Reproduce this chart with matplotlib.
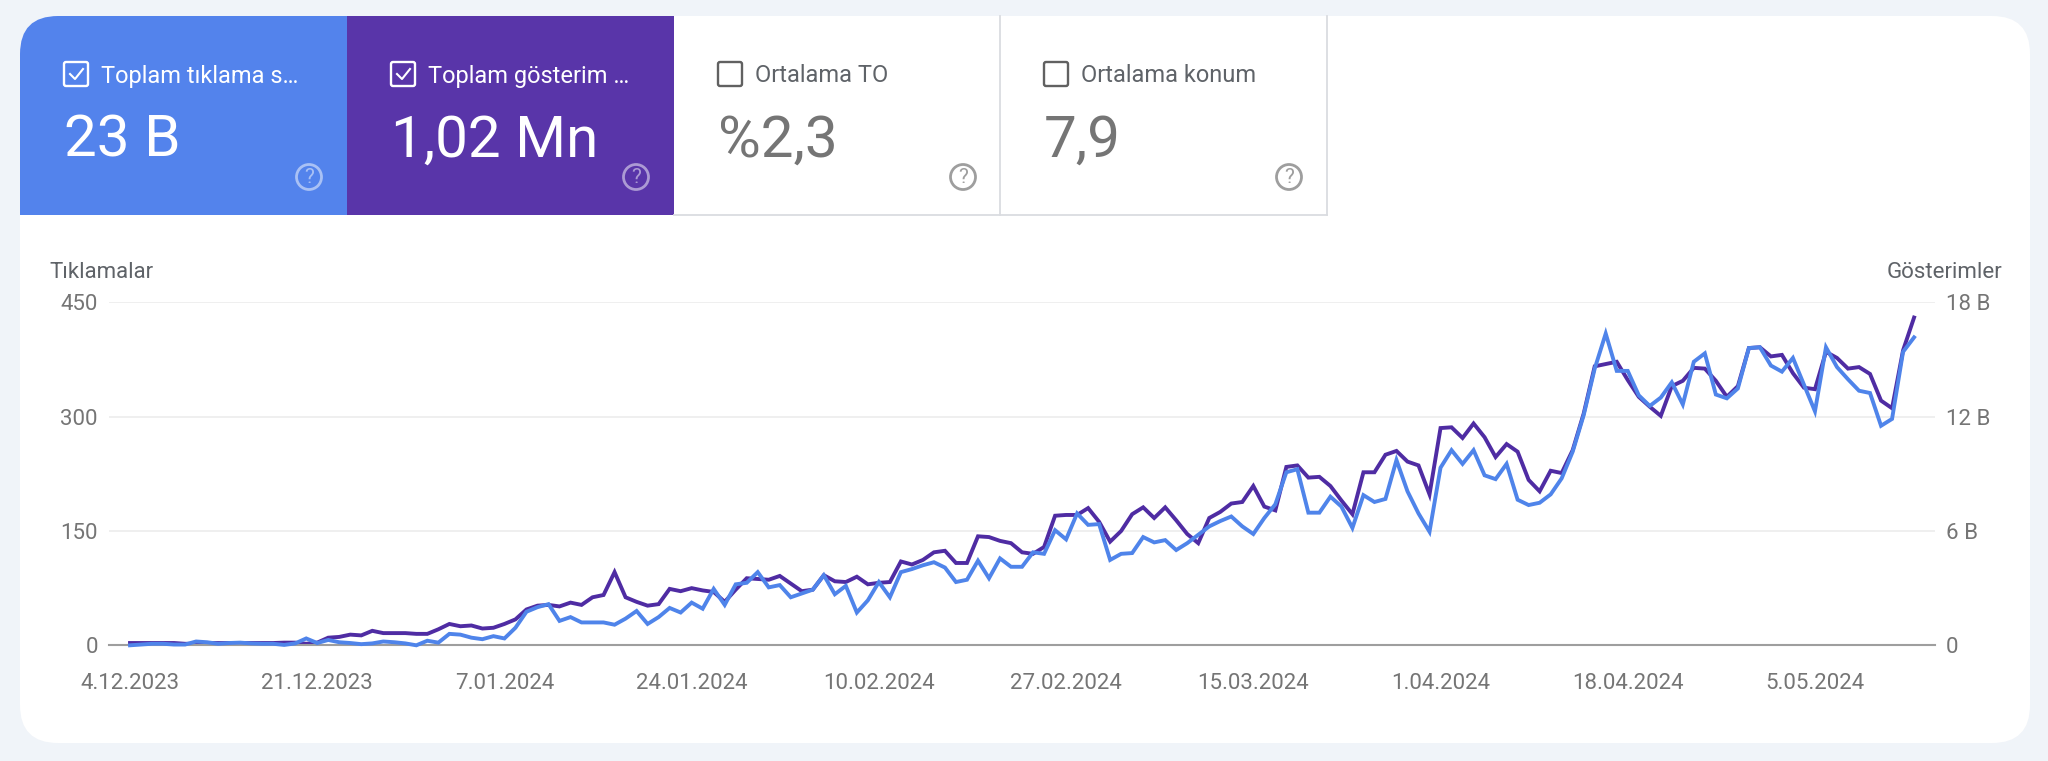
import numpy as np
import pandas as pd
import matplotlib
matplotlib.use('Agg')
import matplotlib.pyplot as plt
from matplotlib.patches import FancyBboxPatch, Rectangle, Circle

plt.rcParams['font.family'] = ['Roboto', 'DejaVu Sans']

# 数据
start_date = '2023-12-04'
clicks = [0, 1, 2, 2, 1, 1, 5, 4, 2, 3, 3.5, 2.5, 2, 2, 0.5, 2.5, 9, 3, 7, 4,
          3, 1.5, 2.5, 5, 4, 2.5, 0, 6, 3.5, 15, 14, 10, 8, 12, 9, 23, 44, 50, 54, 32,
          37, 30, 30, 30, 27, 35, 45, 28, 37, 49, 43, 56, 48, 74, 53, 80, 82, 96, 76, 79,
          63, 68, 73, 92, 67, 78, 43, 59, 83, 63, 96, 100, 105, 109, 102, 83, 86, 111, 88, 114,
          103, 103, 122, 120, 151, 139, 173, 158, 159, 112, 120, 121, 142, 135, 138, 125, 134, 145, 156, 163,
          169, 156, 146, 167, 185, 227, 231, 174, 174, 195, 182, 154, 197, 188, 192, 243, 202, 173, 149, 233,
          256, 238, 256, 223, 218, 238, 191, 184, 187, 198, 219, 254, 302, 363, 409, 360, 360, 328, 314, 325,
          345, 316, 372, 383, 329, 324, 337, 390, 391, 367, 359, 377, 342, 307, 391, 365, 349, 334, 331, 288,
          297, 385, 404]
impressions = [120, 120, 120, 120, 120, 80, 80, 120, 120, 120, 120, 120, 120, 120, 140, 140, 80, 140,
               400, 440, 560, 520, 760, 640, 640, 640, 600, 600, 840, 1120, 1000, 1040, 880, 920, 1120, 1360,
               1880, 2080, 2120, 2040, 2240, 2120, 2520, 2640, 3840, 2520, 2280, 2080, 2160, 2960, 2840, 3000,
               2880, 2800, 2280, 2920, 3520, 3480, 3440, 3640, 3240, 2840, 2920, 3680, 3360, 3320, 3600, 3200,
               3280, 3320, 4400, 4240, 4480, 4880, 4960, 4320, 4320, 5720, 5680, 5480, 5360, 4880, 4800, 5160,
               6800, 6840, 6840, 7200, 6480, 5440, 6000, 6880, 7240, 6680, 7240, 6560, 5840, 5360, 6680, 7000,
               7440, 7520, 8360, 7280, 7080, 9360, 9440, 8800, 8840, 8360, 7600, 6880, 9080, 9080, 10000, 10200,
               9640, 9440, 7920, 11400, 11440, 10880, 11640, 10920, 9880, 10560, 10160, 8680, 8080, 9160, 9040,
               10240, 12160, 14640, 14760, 14880, 13920, 13040, 12520, 12040, 13600, 13880, 14560, 14520, 13880,
               13040, 13600, 15600, 15640, 15160, 15240, 14280, 13520, 13440, 15400, 15080, 14520, 14600, 14240,
               12840, 12440, 15480, 17200]
tick_dates = ['4.12.2023', '21.12.2023', '7.01.2024', '24.01.2024', '10.02.2024',
              '27.02.2024', '15.03.2024', '1.04.2024', '18.04.2024', '5.05.2024']
left_ticks = [0, 150, 300, 450]
left_labels = ['0', '150', '300', '450']
right_ticks = [0, 6000, 12000, 18000]
right_labels = ['0', '6 B', '12 B', '18 B']
card_labels = ['Toplam tıklama s…', 'Toplam gösterim …', 'Ortalama TO', 'Ortalama konum']
card_values = ['23 B', '1,02 Mn', '%2,3', '7,9']
card_checked = [True, True, False, False]

W, H = 2048, 761
BLUE = '#5383ec'
PURPLE = '#5935a9'
GRAY = '#757575'

fig = plt.figure(figsize=(W / 100, H / 100), dpi=100, facecolor='#f0f4f9')

# 背景层，用像素坐标画卡片
bg = fig.add_axes([0, 0, 1, 1])
bg.set_xlim(0, W)
bg.set_ylim(H, 0)
bg.axis('off')

card = FancyBboxPatch((20, 16), 2010, 727, boxstyle='round,pad=0,rounding_size=38',
                      fc='white', ec='none')
bg.add_patch(card)

tile_x = [20, 347, 674, 1000]
tile_w = [327, 327, 326, 327]
tile_col = [BLUE, PURPLE, 'white', 'white']
for i in range(4):
    r = Rectangle((tile_x[i], 16), tile_w[i], 199, fc=tile_col[i], ec='none')
    bg.add_patch(r)
    r.set_clip_path(card)
    on_color = card_checked[i]
    txt = 'white' if on_color else '#5f6368'
    val = 'white' if on_color else GRAY
    ox = tile_x[i] + 43
    # 复选框
    bg.add_patch(FancyBboxPatch((ox + 1, 62), 24, 24, boxstyle='round,pad=0,rounding_size=2',
                                fc='none', ec='white' if on_color else '#616161', lw=1.7))
    if card_checked[i]:
        bg.plot([ox + 7, ox + 12, ox + 20], [74, 79, 69], color='white', lw=1.5)
    bg.text(ox + 38, 76, card_labels[i], color=txt, fontsize=17, va='center', ha='left')
    bg.text(ox + 1, 141, card_values[i], color=val, fontsize=42, va='center', ha='left')
    # 问号
    cx = tile_x[i] + 289
    icon = '#a9c1f5' if i == 0 else ('#ac9ad4' if i == 1 else '#9e9e9e')
    bg.add_patch(Circle((cx, 177), 12.5, fc='none', ec=icon, lw=2))
    bg.text(cx, 177.5, '?', color=icon, fontsize=15, va='center', ha='center')

# 白色指标卡的边线
bg.plot([674, 1327], [215, 215], color='#dadce0', lw=1.3)
bg.plot([1000, 1000], [16, 215], color='#dadce0', lw=1.3)
bg.plot([1327, 1327], [16, 215], color='#dadce0', lw=1.3)

bg.text(49, 273, 'Tıklamalar', color='#5f6368', fontsize=16, va='center', ha='left')
bg.text(2002, 273, 'Gösterimler', color='#5f6368', fontsize=16, va='center', ha='right')

# 折线图
dates = pd.date_range(start_date, periods=len(clicks), freq='D')
ticks = pd.to_datetime(tick_dates, format='%d.%m.%Y')

ax = fig.add_axes([109 / W, 1 - 645.3 / H, (1935 - 109) / W, 343 / H])
ax2 = ax.twinx()
ax.set_zorder(ax2.get_zorder() + 1)
ax.patch.set_visible(False)
ax2.patch.set_visible(False)

ax2.plot(dates, impressions, color='#4f2ca3', lw=2.8, solid_joinstyle='miter', clip_on=False)
ax.plot(dates, clicks, color='#4f84ea', lw=2.8, solid_joinstyle='miter', clip_on=False)

ax.set_xlim(dates[0] - pd.Timedelta(days=1.907), dates[0] + pd.Timedelta(days=163.9))
ax.set_ylim(0, 450)
ax2.set_ylim(0, 18000)
ax.set_xticks(ticks)
ax.set_xticklabels(tick_dates)
ax.set_yticks(left_ticks)
ax.set_yticklabels(left_labels)
ax2.set_yticks(right_ticks)
ax2.set_yticklabels(right_labels)
ax.tick_params(axis='x', length=0, pad=20, labelsize=16, labelcolor=GRAY)
ax.tick_params(axis='y', length=0, pad=8, labelsize=16, labelcolor=GRAY)
ax2.tick_params(axis='y', length=0, pad=8, labelsize=16, labelcolor=GRAY)

ax2.grid(False)
ax.grid(False)
for v in left_ticks[1:]:
    ax2.axhline(v * 40, color='#eeeeee', lw=1.3, zorder=0)
ax.axhline(0, color='#9e9e9e', lw=1.5, zorder=1, clip_on=False)
for a in (ax, ax2):
    for s in a.spines.values():
        s.set_visible(False)

fig.savefig('out.png', dpi=100, facecolor=fig.get_facecolor())
